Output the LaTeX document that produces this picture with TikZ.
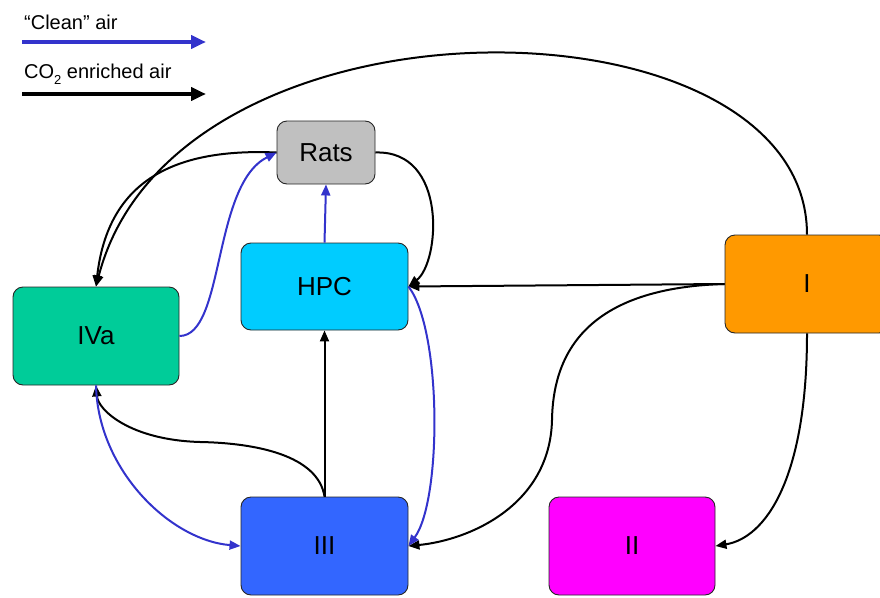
\documentclass[tikz,border=0pt]{standalone}
\usepackage{fontspec}
\setmainfont{Liberation Sans}
\usetikzlibrary{arrows.meta}
\definecolor{cleanblue}{RGB}{51,51,204}
\definecolor{ratsgray}{RGB}{192,192,192}
\definecolor{hpccyan}{RGB}{0,204,255}
\definecolor{ivagreen}{RGB}{0,204,153}
\definecolor{iiiblue}{RGB}{51,102,255}
\definecolor{iimag}{RGB}{255,0,255}
\definecolor{iorange}{RGB}{255,153,0}
\tikzset{
  box/.style={draw=black!85, line width=0.9pt, rounded corners=10pt, inner sep=0pt,
    font=\fontsize{26}{30}\selectfont},
  co2/.style={draw=black, line width=2pt, -{Triangle[length=11pt,width=9pt]}},
  clean/.style={draw=cleanblue, line width=2pt, -{Triangle[length=11pt,width=9pt]}},
  legendtext/.style={anchor=base west, inner sep=0pt, font=\fontsize{20}{24}\selectfont},
}
\begin{document}
\begin{tikzpicture}[x=1pt,y=-1pt]
\useasboundingbox (0,0) rectangle (880,597);
\clip (0,0) rectangle (880,597);
% legend
\node[legendtext] (lclean) at (24,29) {``Clean'' air};
\coordinate (lc1) at (22,42);
\coordinate (lc2) at (206,42);
\draw[draw=cleanblue, line width=4.5pt, -{Triangle[length=15pt,width=13pt]}] (lc1) -- (lc2);
\node[legendtext] (lco2) at (24,78) {CO\raisebox{-0.3em}{\fontsize{13}{13}\selectfont 2} enriched air};
\coordinate (lk1) at (22,94);
\coordinate (lk2) at (206,94);
\draw[draw=black, line width=4.5pt, -{Triangle[length=15pt,width=13pt]}] (lk1) -- (lk2);
% boxes
\node[box, fill=ratsgray, minimum width=98pt, minimum height=63pt] (Rats) at (326,152.5) {Rats};
\node[box, fill=hpccyan, minimum width=167pt, minimum height=87pt] (HPC) at (324.5,286.5) {HPC};
\node[box, fill=ivagreen, minimum width=166pt, minimum height=98pt] (IVa) at (96,336) {IVa};
\node[box, fill=iiiblue, minimum width=167pt, minimum height=98pt] (III) at (324.5,546) {III};
\node[box, fill=iimag, minimum width=166pt, minimum height=98pt] (II) at (632,546) {II};
\node[box, fill=iorange, minimum width=164pt, minimum height=98pt] (I) at (807,284) {I};
% connectors
\draw[co2] (I.north) .. controls (807,-10) and (175,-20) .. (IVa.north);
\draw[co2] (Rats.west) .. controls (175,148) and (108,180) .. (IVa.north);
\draw[clean] (IVa.east) .. controls (225,336) and (212,185) .. (Rats.west);
\draw[clean] (HPC.north) -- (Rats.south);
\draw[co2] (Rats.east) .. controls (448,150) and (440,262) .. (HPC.east);
\draw[co2] (I.west) -- (HPC.east);
\draw[co2] (I.west) .. controls (580,288) and (553,360) .. (552,420)
  .. controls (550,505) and (470,540) .. (III.east);
\draw[co2] (I.south) .. controls (807,480) and (765,538) .. (II.east);
\draw[clean] (HPC.east) .. controls (442,330) and (442,500) .. (III.east);
\draw[co2] (III.north) -- (HPC.south);
\draw[co2] (III.north) .. controls (318,455) and (255,443) .. (200,442)
  .. controls (130,440) and (98,410) .. (IVa.south);
\draw[clean] (IVa.south) .. controls (98,470) and (170,540) .. (III.west);
\end{tikzpicture}
\end{document}
